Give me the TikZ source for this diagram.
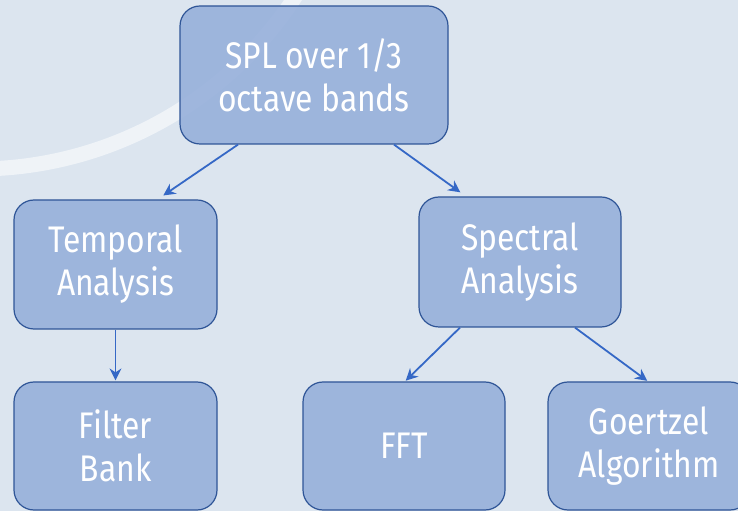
\documentclass[tikz,border=0pt]{standalone}
\usepackage{fontspec}
\setmainfont{Fira Sans}[FakeStretch=0.86]
\usepackage{xcolor}
\usetikzlibrary{arrows.meta,positioning}
\definecolor{PageBlue}{HTML}{DCE5EF}
\definecolor{BoxBlue}{HTML}{97B0DB}
\definecolor{EdgeBlue}{HTML}{2F5597}
\definecolor{LinkBlue}{HTML}{3568C6}
\tikzset{
  topic box/.style={draw=EdgeBlue,line width=1.2pt,fill=BoxBlue,fill opacity=0.9,
    text opacity=1,text=white,rounded corners=20pt,align=center,inner sep=0pt,
    font=\fontsize{37}{43}\selectfont},
  link/.style={draw=LinkBlue,line width=1.8pt,-{Stealth[length=12pt,width=12pt,inset=4pt]}},
}

\begin{document}
\begin{tikzpicture}[x=1pt,y=1pt]
\fill[PageBlue] (0,0) rectangle (738,511);
\useasboundingbox (0,0) rectangle (738,511);
\clip (0,0) rectangle (738,511);
% faint arc behind the boxes
\draw[white,opacity=0.55,line width=15pt] (-23,722) ++(-100:380) arc[start angle=-100,end angle=-25,radius=380];

\node[topic box,minimum width=268pt,minimum height=138pt] (spl) at (314,436) {SPL over 1/3\\octave bands};
\node[topic box,minimum width=203pt,minimum height=129pt] (temporal) at (115.5,246.5) {Temporal\\Analysis};
\node[topic box,minimum width=202pt,minimum height=130pt] (spectral) at (520,249) {Spectral\\Analysis};
\node[topic box,minimum width=203pt,minimum height=128pt] (filter) at (115.5,65) {Filter\\Bank};
\node[topic box,minimum width=202pt,minimum height=128pt] (fft) at (404,65) {FFT};
\node[topic box,minimum width=202pt,minimum height=128pt] (goertzel) at (649,65) {Goertzel\\Algorithm};

\draw[link,shorten >=7pt] ([xshift=-76pt]spl.south) -- ([xshift=42pt]temporal.north);
\draw[link,shorten >=7pt] ([xshift=80pt]spl.south) -- ([xshift=-54pt]spectral.north);
\draw[link,shorten >=1pt] (temporal.south) -- (filter.north);
\draw[link,shorten >=1pt] ([xshift=-60pt]spectral.south) -- ([xshift=1pt]fft.north);
\draw[link,shorten >=1pt] ([xshift=55pt]spectral.south) -- ([xshift=-1pt]goertzel.north);
\end{tikzpicture}
\end{document}
